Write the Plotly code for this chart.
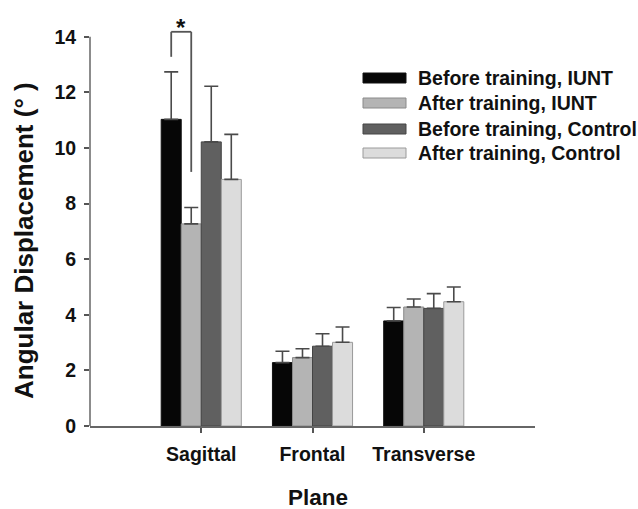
import plotly.graph_objects as go

planes = ["Sagittal", "Frontal", "Transverse"]
series_names = ["Before training, IUNT", "After training, IUNT",
                "Before training, Control", "After training, Control"]
before_iunt = [11.03, 2.28, 3.78]
before_iunt_err = [1.71, 0.41, 0.48]
after_iunt = [7.27, 2.46, 4.28]
after_iunt_err = [0.59, 0.32, 0.29]
before_ctrl = [10.22, 2.87, 4.23]
before_ctrl_err = [2.00, 0.45, 0.53]
after_ctrl = [8.87, 3.01, 4.47]
after_ctrl_err = [1.62, 0.55, 0.53]
y_ticks = [0, 2, 4, 6, 8, 10, 12, 14]

values = [before_iunt, after_iunt, before_ctrl, after_ctrl]
errors = [before_iunt_err, after_iunt_err, before_ctrl_err, after_ctrl_err]
colors = ["#060606", "#b4b4b4", "#606060", "#dcdcdc"]
outline = ["#111111", "#8a8a8a", "#444444", "#9a9a9a"]

FONT = "Liberation Sans, Arial, sans-serif"

fig = go.Figure()
for name, v, e, c, oc in zip(series_names, values, errors, colors, outline):
    fig.add_trace(go.Bar(
        x=planes, y=v, name=name,
        marker=dict(color=c, line=dict(color=oc, width=1)),
        error_y=dict(type="data", symmetric=False, array=e,
                     arrayminus=[0] * len(e), color="#4a4a4a",
                     thickness=1.6, width=7),
        showlegend=False,
    ))

# significance bracket between first two Sagittal bars
bw = 0.72 / 4
xa = -1.5 * bw
xb = -0.5 * bw
fig.add_shape(type="line", xref="x", yref="y", x0=xa, x1=xa, y0=13.28, y1=14.18,
              line=dict(color="#555555", width=1.8))
fig.add_shape(type="line", xref="x", yref="y", x0=xa, x1=xb, y0=14.18, y1=14.18,
              line=dict(color="#555555", width=1.8))
fig.add_shape(type="line", xref="x", yref="y", x0=xb, x1=xb, y0=9.14, y1=14.18,
              line=dict(color="#555555", width=1.8))
fig.add_annotation(x=(xa + xb) / 2, y=13.78, xref="x", yref="y", text="*",
                   showarrow=False, yanchor="bottom",
                   font=dict(family=FONT, size=24, color="#111", weight="bold"))

# y-axis line only up to 14
fig.add_shape(type="line", xref="paper", yref="y", x0=0, x1=0, y0=0, y1=14,
              line=dict(color="#666666", width=1.5))

# manual legend
L, T = 90, 9
PW, PH = 445, 417
def px2x(p):
    return (p - L) / PW
def py2y(p):
    return 1 - (p - T) / PH
rows = [78, 103, 129, 153]
for name, c, oc, ry in zip(series_names, colors, outline, rows):
    fig.add_shape(type="rect", xref="paper", yref="paper",
                  x0=px2x(363), x1=px2x(406), y0=py2y(ry + 5), y1=py2y(ry - 5),
                  fillcolor=c, line=dict(color=oc, width=1))
    fig.add_annotation(xref="paper", yref="paper", x=px2x(416), y=py2y(ry),
                       text=name, showarrow=False, xanchor="left", yanchor="middle",
                       font=dict(family=FONT, size=19.5, color="#111", weight="bold"))

# axis titles
fig.add_annotation(xref="paper", yref="paper", x=px2x(24), y=py2y(241),
                   text="Angular Displacement (° )", textangle=-90, showarrow=False,
                   xanchor="center", yanchor="middle",
                   font=dict(family=FONT, size=26, color="#111", weight="bold"))
fig.add_annotation(xref="paper", yref="paper", x=px2x(318), y=py2y(497),
                   text="Plane", showarrow=False, xanchor="center", yanchor="middle",
                   font=dict(family=FONT, size=22.5, color="#111", weight="bold"))

fig.update_layout(
    width=638, height=509,
    margin=dict(l=L, r=103, t=T, b=83),
    paper_bgcolor="white", plot_bgcolor="white",
    barmode="group", bargap=0.28, bargroupgap=0,
    font=dict(family=FONT, size=19.5, color="#111"),
    xaxis=dict(range=[-1, 3], showline=True, linecolor="#666666", linewidth=1.5,
               ticks="outside", ticklen=5, tickwidth=1.5, tickcolor="#555555",
               showgrid=False, zeroline=False, ticklabelstandoff=5,
               tickfont=dict(family=FONT, size=19.5, color="#111", weight="bold")),
    yaxis=dict(range=[0, 15], showline=False, tickvals=y_ticks,
               ticks="outside", ticklen=5, tickwidth=1.5, tickcolor="#555555",
               showgrid=False, zeroline=False, ticklabelstandoff=4,
               tickfont=dict(family=FONT, size=19.5, color="#111", weight="bold")),
)

fig.write_html("out.html", config={"displayModeBar": False},
               post_script="document.body.style.margin='0';")
